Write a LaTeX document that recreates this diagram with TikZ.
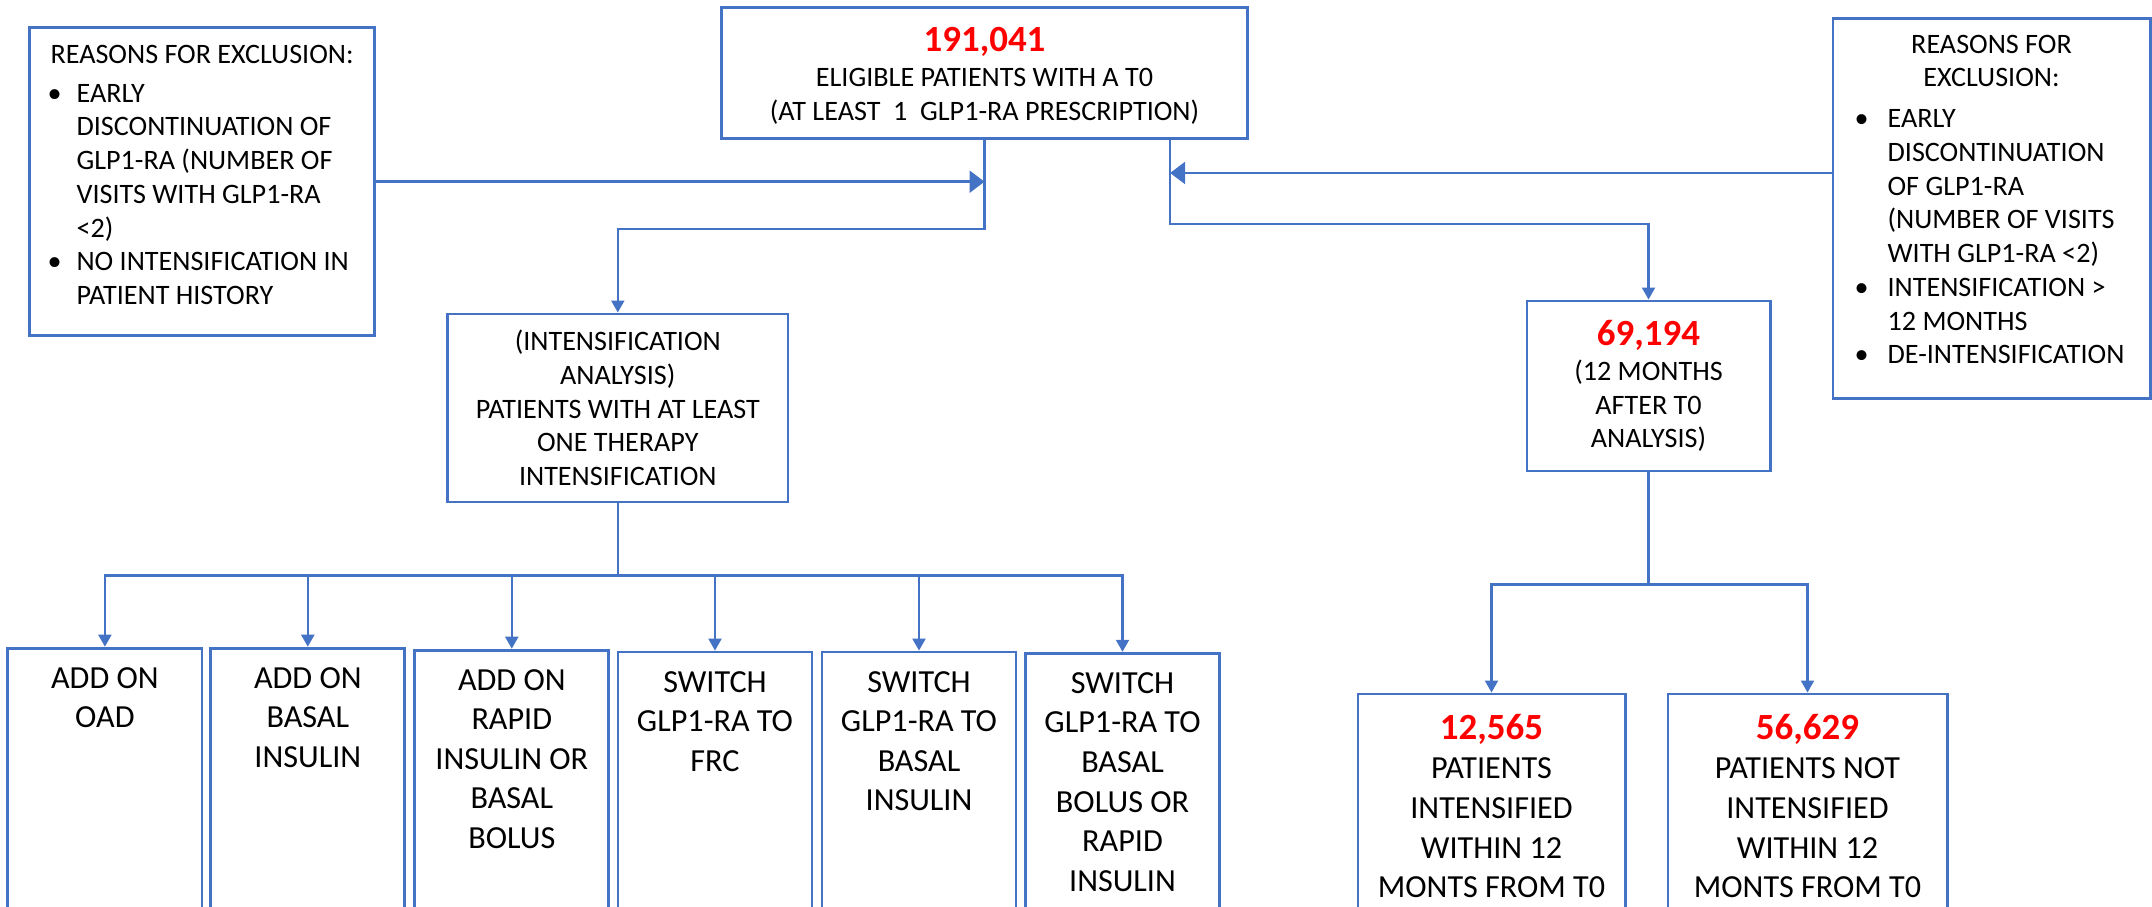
\documentclass[tikz,border=0pt]{standalone}
\usepackage{fontspec}
\setmainfont{Carlito}
\usetikzlibrary{arrows.meta,positioning}

\definecolor{boxblue}{RGB}{68,114,196}
\definecolor{numred}{RGB}{255,0,0}
\newcommand{\txtS}{\fontsize{8pt}{9.6pt}\selectfont}
\newcommand{\txtL}{\fontsize{9.15pt}{11.25pt}\selectfont}
\newcommand{\txtN}{\fontsize{10.5pt}{11.25pt}\selectfont\bfseries\color{numred}}

\begin{document}
\begin{tikzpicture}[x=0.01cm, y=-0.01cm,
    box/.style={draw=boxblue, line width=0.8pt, inner sep=0pt, align=center},
    lowbox/.style={box, anchor=north, minimum width=1.94cm, minimum height=2.7cm},
    lowtxt/.style={inner sep=0pt, align=center, font=\txtL},
    conn/.style={draw=boxblue, line width=0.6pt, -{Triangle[length=0.12cm, width=0.13cm]}},
    bigconn/.style={conn, line width=0.7pt, -{Triangle[length=0.15cm, width=0.22cm]}}]
    \useasboundingbox (0,0) rectangle (2152,906);
    \clip (0,0) rectangle (2152,906);

    \node[box, font=\txtS, minimum width=5.26cm, minimum height=1.31cm] at (984.5,72.8) (TOTAL) {\rule{0pt}{0.3cm}{\txtN 191,041}\\[0.02cm]ELIGIBLE PATIENTS WITH A T0\\(AT LEAST\ \ 1\ \ GLP1-RA PRESCRIPTION)};
    \node[box, font=\txtS, minimum width=3.45cm, minimum height=3.08cm] at (202.1,181.7) (EXCLL) {\begin{tabular}{@{\hspace{-0.03cm}}p{0.29cm}@{}l@{}}
        \multicolumn{2}{@{}c@{}}{REASONS FOR EXCLUSION:}\\[0.05cm]
        \textbullet & EARLY\\
        & DISCONTINUATION OF\\
        & GLP1-RA (NUMBER OF\\
        & VISITS WITH GLP1-RA\\
        & <2)\\
        \textbullet & NO INTENSIFICATION IN\\
        & PATIENT HISTORY\\[0.09cm]
    \end{tabular}};
    \node[box, font=\txtS, minimum width=3.17cm, minimum height=3.79cm] at (1991.5,208.5) (EXCLR) {\begin{tabular}{@{}p{0.33cm}@{}l@{\hspace{0.04cm}}}
        \multicolumn{2}{@{}c@{}}{REASONS FOR}\\
        \multicolumn{2}{@{}c@{}}{EXCLUSION:}\\[0.07cm]
        \textbullet & EARLY\\
        & DISCONTINUATION\\
        & OF GLP1-RA\\
        & (NUMBER OF VISITS\\
        & WITH GLP1-RA <2)\\
        \textbullet & INTENSIFICATION >\\
        & 12 MONTHS\\
        \textbullet & DE-INTENSIFICATION\\[0.135cm]
    \end{tabular}};
    \node[box, font=\txtS, minimum width=3.40cm, minimum height=1.88cm] at (617.8,408) (INTENS) {(INTENSIFICATION\\ANALYSIS)\\PATIENTS WITH AT LEAST\\ONE THERAPY\\INTENSIFICATION};
    \node[box, font=\txtS, minimum width=2.43cm, minimum height=1.70cm] at (1648.5,386) (MON12) {{\txtN 69,194}\\[0.012cm](12 MONTHS\\AFTER T0\\ANALYSIS)};
    \node[box, font=\txtL, minimum width=2.67cm, minimum height=2.24cm] at (1491.5,806) (INTD) {{\txtN 12,565}\\PATIENTS\\INTENSIFIED\\WITHIN 12\\MONTS FROM T0};
    \node[box, font=\txtL, minimum width=2.79cm, minimum height=2.24cm] at (1807.5,806) (NOTINTD) {{\txtN 56,629}\\PATIENTS NOT\\INTENSIFIED\\WITHIN 12\\MONTS FROM T0};

    \node[lowbox] at (104.9,646.7) (OAD) {};
    \node[lowtxt, below=0.2cm of OAD.north] (OADtx) {ADD ON\\OAD};
    \node[lowbox] at (307.8,646.7) (BASAL) {};
    \node[lowtxt, below=0.2cm of BASAL.north] (BASALtx) {ADD ON\\BASAL\\INSULIN};
    \node[lowbox] at (511.8,648.7) (RAPID) {};
    \node[lowtxt, below=0.2cm of RAPID.north] (RAPIDtx) {ADD ON\\RAPID\\INSULIN OR\\BASAL\\BOLUS};
    \node[lowbox] at (715,650.6) (FRC) {};
    \node[lowtxt, below=0.2cm of FRC.north] (FRCtx) {SWITCH\\GLP1-RA TO\\FRC};
    \node[lowbox] at (919,650.6) (SWBASAL) {};
    \node[lowtxt, below=0.2cm of SWBASAL.north] (SWBASALtx) {SWITCH\\GLP1-RA TO\\BASAL\\INSULIN};
    \node[lowbox] at (1122.5,651.8) (SWBOLUS) {};
    \node[lowtxt, below=0.2cm of SWBOLUS.north] (SWBOLUStx) {SWITCH\\GLP1-RA TO\\BASAL\\BOLUS OR\\RAPID\\INSULIN};

    \coordinate (TOTr) at ([xshift=1.855cm]TOTAL.south);
    \coordinate (EXRa) at ([yshift=0.355cm]EXCLR.west);
    \draw[conn] (TOTAL.south) -- ++(0,89) -| (INTENS.north);
    \draw[bigconn] (EXCLL.east) -- (EXCLL.east -| TOTAL.south);
    \draw[conn] (TOTr) -- ++(0,84) -| (MON12.north);
    \draw[bigconn] (EXRa) -- (EXRa -| TOTr);
    \draw[conn] (INTENS.south) -- ++(0,72) -| (OAD.north);
    \draw[conn] (INTENS.south) -- ++(0,72) -| (BASAL.north);
    \draw[conn] (INTENS.south) -- ++(0,72) -| (RAPID.north);
    \draw[conn] (INTENS.south) -- ++(0,72) -| (FRC.north);
    \draw[conn] (INTENS.south) -- ++(0,72) -| (SWBASAL.north);
    \draw[conn] (INTENS.south) -- ++(0,72) -| (SWBOLUS.north);
    \draw[conn] (MON12.south) -- ++(0,112) -| (INTD.north);
    \draw[conn] (MON12.south) -- ++(0,112) -| (NOTINTD.north);
\end{tikzpicture}
\end{document}
